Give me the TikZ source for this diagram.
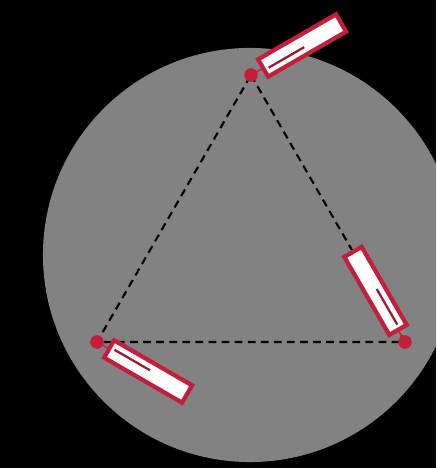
\documentclass[tikz,border=0pt]{standalone}
\usetikzlibrary{arrows.meta}
\definecolor{sensorred}{RGB}{196,30,58}
\definecolor{diskgray}{RGB}{130,130,130}
\tikzset{
  dashed edge/.style={black, line width=1.5pt, dash pattern=on 5.5pt off 3.8pt},
  sensor box/.style={fill=white, draw=sensorred, line width=3pt},
  sensor mark/.style={sensorred!80!black, line width=1.6pt},
  sensor stem/.style={sensorred, line width=1pt},
}

\begin{document}
\begin{tikzpicture}[x=0.025cm, y=0.025cm]
  % background
  \fill[black] (0,0) rectangle (436,468);
  \useasboundingbox (0,0) rectangle (436,468);
  \begin{scope}
    \clip (0,0) rectangle (436,468);
    \fill[diskgray] (250,213) circle (5.175cm);
  \end{scope}

  % mounting points
  \coordinate (top) at (251,393);
  \coordinate (left) at (97,126);
  \coordinate (right) at (405,126);

  % triangle
  \draw[dashed edge] (top) -- (right) -- (left) -- cycle;

  % sensors
  \foreach \p/\a/\o in {top/30/-2.5, right/120/-2, left/-30/2} {
    \begin{scope}[shift={(\p)}, rotate=\a]
      \draw[sensor stem] (0,0) -- (13,0);
      \filldraw[sensor box] (14,-10) rectangle (104,10);
      \draw[sensor mark] (19,\o) -- (60,\o);
    \end{scope}
  }

  % dots
  \foreach \p in {top, left, right}
    \fill[sensorred] (\p) circle (0.17cm);
\end{tikzpicture}
\end{document}
